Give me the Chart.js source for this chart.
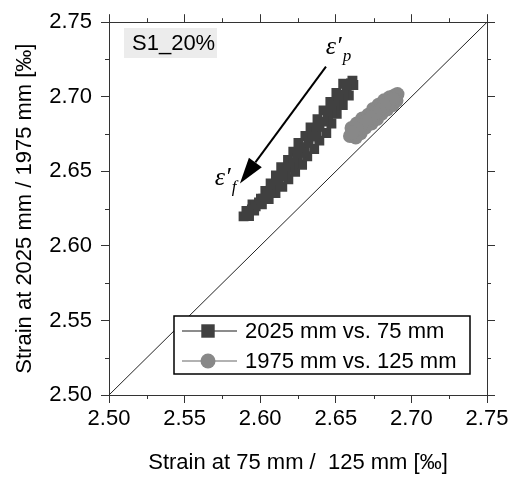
<!DOCTYPE html>
<html>
<head>
<meta charset="utf-8">
<script src="https://cdn.jsdelivr.net/npm/chart.js@4.4.1/dist/chart.umd.min.js"></script>
<style>
  html, body { margin: 0; padding: 0; background: #fff; }
  #wrap { width: 514px; height: 484px; }
</style>
</head>
<body>
<div id="wrap"><canvas id="strainChart"></canvas></div>
<script>
// 2025 mm vs. 75 mm (loading up, then back down the middle of the band)
const darkX = [2.5890, 2.5926, 2.5909, 2.5960, 2.5949, 2.6011, 2.6005, 2.6056, 2.6034, 2.6101,
  2.6069, 2.6146, 2.6104, 2.6186, 2.6139, 2.6231, 2.6184, 2.6277, 2.6219, 2.6311,
  2.6253, 2.6357, 2.6299, 2.6391, 2.6333, 2.6437, 2.6379, 2.6471, 2.6419, 2.6506,
  2.6464, 2.6546, 2.6504, 2.6586, 2.6549, 2.6616, 2.6610,
  2.6600, 2.6572, 2.6548, 2.6520, 2.6492, 2.6470, 2.6448, 2.6420, 2.6392, 2.6370,
  2.6348, 2.6320, 2.6292, 2.6270, 2.6248, 2.6220, 2.6192, 2.6170, 2.6148, 2.6120,
  2.6092, 2.6070, 2.6048, 2.6020, 2.5992, 2.5970, 2.5945, 2.5920];
const darkY = [2.6198, 2.6200, 2.6234, 2.6237, 2.6278, 2.6278, 2.6316, 2.6314, 2.6368, 2.6355,
  2.6418, 2.6397, 2.6473, 2.6447, 2.6527, 2.6496, 2.6576, 2.6544, 2.6632, 2.6601,
  2.6690, 2.6650, 2.6737, 2.6706, 2.6794, 2.6757, 2.6849, 2.6821, 2.6909, 2.6885,
  2.6965, 2.6945, 2.7025, 2.7008, 2.7087, 2.7079, 2.7108,
  2.7090, 2.7052, 2.7012, 2.6980, 2.6942, 2.6905, 2.6875, 2.6833, 2.6802, 2.6765,
  2.6733, 2.6693, 2.6662, 2.6625, 2.6592, 2.6556, 2.6527, 2.6495, 2.6467, 2.6430,
  2.6404, 2.6372, 2.6347, 2.6316, 2.6292, 2.6265, 2.6244, 2.6216];

// 1975 mm vs. 125 mm
const lightX = [2.6594, 2.6632, 2.6604, 2.6664, 2.6639, 2.6695, 2.6675, 2.6736, 2.6715, 2.6772,
  2.6747, 2.6803, 2.6783, 2.6839, 2.6819, 2.6875, 2.6857, 2.6901, 2.6891, 2.6908,
  2.6880, 2.6850, 2.6820, 2.6790, 2.6760, 2.6730, 2.6700, 2.6670, 2.6640, 2.6610];
const lightY = [2.6737, 2.6727, 2.6791, 2.6755, 2.6821, 2.6792, 2.6854, 2.6820, 2.6880, 2.6851,
  2.6918, 2.6886, 2.6946, 2.6915, 2.6976, 2.6943, 2.6997, 2.6973, 2.7010, 2.7018,
  2.6985, 2.6962, 2.6940, 2.6912, 2.6888, 2.6862, 2.6835, 2.6810, 2.6785, 2.6760];

// y = x reference line
const diagX = [2.5, 2.75];
const diagY = [2.5, 2.75];

const minorTicks = [2.525, 2.575, 2.625, 2.675, 2.725];

const seriesLabels = ["2025 mm vs. 75 mm", "1975 mm vs. 125 mm"];

const FONT = "'Liberation Sans', Arial, sans-serif";
const SERIF = "'Liberation Serif', 'Times New Roman', serif";
const AXIS_COLOR = "#333";

function toPoints(xs, ys) {
  return xs.map((x, i) => ({ x, y: ys[i] }));
}

// small ticks between the labelled ones, on all four sides
const minorTickPlugin = {
  id: "minorTicks",
  afterDraw(chart) {
    const { ctx, chartArea: a, scales } = chart;
    ctx.save();
    ctx.strokeStyle = AXIS_COLOR;
    ctx.lineWidth = 1;
    ctx.beginPath();
    for (const v of minorTicks) {
      const px = Math.round(scales.x.getPixelForValue(v)) + 0.5;
      const py = Math.round(scales.y.getPixelForValue(v)) + 0.5;
      ctx.moveTo(px, a.bottom); ctx.lineTo(px, a.bottom + 4);
      ctx.moveTo(px, a.top); ctx.lineTo(px, a.top - 4);
      ctx.moveTo(a.left, py); ctx.lineTo(a.left - 4, py);
      ctx.moveTo(a.right, py); ctx.lineTo(a.right + 4, py);
    }
    ctx.stroke();
    ctx.restore();
  },
};

// tag box, arrow and epsilon labels
const notesPlugin = {
  id: "notes",
  afterDatasetsDraw(chart, args, opts) {
    const { ctx, scales: { x, y } } = chart;
    ctx.save();

    // S1_20% tag
    ctx.fillStyle = "#ececec";
    ctx.fillRect(124, 28, 93, 30);
    ctx.fillStyle = "#000";
    ctx.font = `22px ${FONT}`;
    ctx.textBaseline = "middle";
    ctx.fillText(opts.tag, 132, 44);

    // arrow from eps'_p towards eps'_f
    const x1 = x.getPixelForValue(opts.arrowFrom[0]);
    const y1 = y.getPixelForValue(opts.arrowFrom[1]);
    const x2 = x.getPixelForValue(opts.arrowTo[0]);
    const y2 = y.getPixelForValue(opts.arrowTo[1]);
    const ang = Math.atan2(y2 - y1, x2 - x1);
    const headLen = 26, headHalf = 8;
    const bx = x2 - headLen * Math.cos(ang);
    const by = y2 - headLen * Math.sin(ang);
    ctx.strokeStyle = "#000";
    ctx.lineWidth = 2;
    ctx.beginPath();
    ctx.moveTo(x1, y1);
    ctx.lineTo(bx, by);
    ctx.stroke();
    ctx.fillStyle = "#000";
    ctx.beginPath();
    ctx.moveTo(x2, y2);
    ctx.lineTo(bx + headHalf * Math.sin(ang), by - headHalf * Math.cos(ang));
    ctx.lineTo(bx - headHalf * Math.sin(ang), by + headHalf * Math.cos(ang));
    ctx.closePath();
    ctx.fill();

    // epsilon labels
    ctx.textBaseline = "alphabetic";
    for (const lab of opts.labels) {
      const lx = x.getPixelForValue(lab.at[0]);
      const ly = y.getPixelForValue(lab.at[1]);
      ctx.font = `italic 26px ${SERIF}`;
      ctx.fillText("\u03b5\u2032", lx, ly);
      ctx.font = `italic 17px ${SERIF}`;
      ctx.fillText(lab.sub, lx + 17, ly + 7);
    }
    ctx.restore();
  },
};

// boxed legend in the lower right of the plot
const legendBoxPlugin = {
  id: "legendBox",
  afterDraw(chart, args, opts) {
    const { ctx } = chart;
    const entries = chart.data.datasets.filter((d) => seriesLabels.includes(d.label));
    ctx.save();
    ctx.fillStyle = "#fff";
    ctx.fillRect(opts.left, opts.top, opts.width, opts.height);
    ctx.strokeStyle = "#000";
    ctx.lineWidth = 1.5;
    ctx.strokeRect(opts.left, opts.top, opts.width, opts.height);

    entries.forEach((ds, i) => {
      const cy = opts.top + 15 + i * 30;
      const sx = opts.left + 8;
      ctx.strokeStyle = ds.legendLine;
      ctx.lineWidth = 1.5;
      ctx.beginPath();
      ctx.moveTo(sx, cy);
      ctx.lineTo(sx + 55, cy);
      ctx.stroke();
      ctx.fillStyle = ds.backgroundColor;
      Chart.helpers.drawPoint(ctx, {
        pointStyle: ds.pointStyle,
        radius: ds.pointStyle === "rect" ? 9.5 : 7.5,
        borderWidth: 0,
        rotation: 0,
      }, sx + 26, cy);
      ctx.fillStyle = "#000";
      ctx.font = `22px ${FONT}`;
      ctx.textBaseline = "middle";
      ctx.fillText(ds.label, sx + 63, cy + 1);
    });
    ctx.restore();
  },
};

const tickFont = { family: FONT, size: 22 };
const titleFont = { family: FONT, size: 22 };

function axis(position, extra) {
  return {
    type: "linear",
    position,
    min: 2.5,
    max: 2.75,
    ticks: {
      stepSize: 0.05,
      color: "#000",
      font: tickFont,
      maxRotation: 0,
      autoSkip: false,
      callback: (v) => Number(v).toFixed(2),
    },
    grid: {
      drawOnChartArea: false,
      tickLength: 8,
      color: AXIS_COLOR,
      tickColor: AXIS_COLOR,
    },
    border: { color: AXIS_COLOR, width: 1 },
    ...extra,
  };
}

const chart = new Chart(document.getElementById("strainChart"), {
  type: "scatter",
  data: {
    datasets: [
      {
        label: "y = x",
        data: toPoints(diagX, diagY),
        showLine: true,
        borderColor: "#222",
        borderWidth: 1,
        pointRadius: 0,
      },
      {
        label: seriesLabels[0],
        data: toPoints(darkX, darkY),
        showLine: true,
        borderColor: "#404040",
        borderWidth: 1,
        backgroundColor: "#404040",
        pointStyle: "rect",
        pointRadius: 7,
        pointBorderWidth: 0,
        legendLine: "#666",
      },
      {
        label: seriesLabels[1],
        data: toPoints(lightX, lightY),
        showLine: true,
        borderColor: "#888",
        borderWidth: 1,
        backgroundColor: "#888",
        pointStyle: "circle",
        pointRadius: 7,
        pointBorderWidth: 0,
        legendLine: "#999",
      },
    ],
  },
  options: {
    responsive: true,
    maintainAspectRatio: false,
    animation: false,
    layout: { padding: 0 },
    plugins: {
      legend: { display: false },
      tooltip: { enabled: false },
      notes: {
        tag: "S1_20%",
        arrowFrom: [2.6435, 2.7202],
        arrowTo: [2.5866, 2.6419],
        labels: [
          { at: [2.6434, 2.7288], sub: "p" },
          { at: [2.5700, 2.6410], sub: "f" },
        ],
      },
      legendBox: { left: 174, top: 316, width: 296, height: 58 },
    },
    scales: {
      x: axis("bottom", {
        title: {
          display: true,
          text: "Strain at 75 mm /  125 mm [\u2030]",
          color: "#000",
          font: titleFont,
          padding: { top: 0, bottom: 8 },
        },
        afterFit(scale) { scale.height = 89; },
      }),
      y: axis("left", {
        ticks: {
          stepSize: 0.05,
          color: "#000",
          font: tickFont,
          padding: 9,
          callback: (v) => Number(v).toFixed(2),
        },
        title: {
          display: true,
          text: "Strain at 2025 mm / 1975 mm [\u2030]",
          color: "#000",
          font: titleFont,
          padding: { top: 12, bottom: 0 },
        },
        afterFit(scale) { scale.width = 109; },
      }),
      x2: axis("top", {
        ticks: { stepSize: 0.05, display: false },
        afterFit(scale) { scale.height = 18; },
      }),
      y2: axis("right", {
        ticks: { stepSize: 0.05, display: false },
        afterFit(scale) { scale.width = 27; },
      }),
    },
  },
  plugins: [minorTickPlugin, notesPlugin, legendBoxPlugin],
});
</script>
</body>
</html>
